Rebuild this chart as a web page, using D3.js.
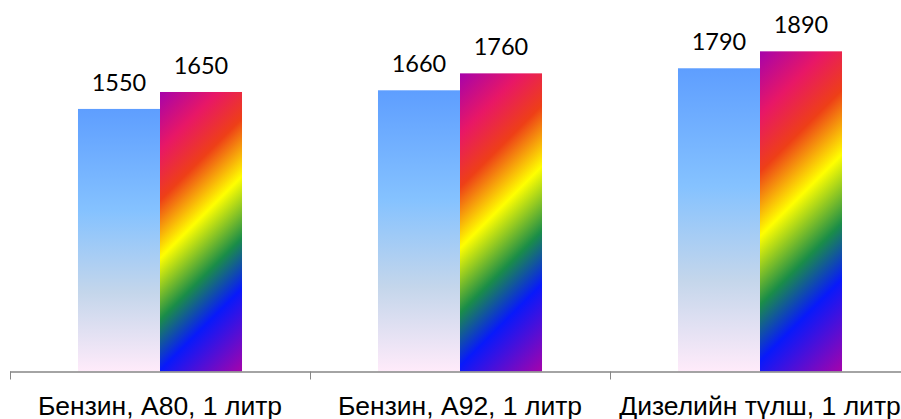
<!DOCTYPE html>
<html>
<head>
<meta charset="utf-8">
<script src="https://cdn.jsdelivr.net/npm/d3@7"></script>
<style>
  html, body { margin: 0; padding: 0; background: #ffffff; }
  svg { display: block; }
</style>
</head>
<body>
<svg id="chart" width="901" height="419"></svg>
<script>
// ---- data ----
const categories = ["Бензин, А80, 1 литр", "Бензин, А92, 1 литр", "Дизелийн түлш, 1 литр"];
const seriesNames = ["s1", "s2"];
const series1 = [1550, 1660, 1790];
const series2 = [1650, 1760, 1890];
const yMax = 2000;

// ---- layout ----
const W = 901, H = 419;
const baseY = 371.5;
const svg = d3.select("#chart");
const defs = svg.append("defs");

const x0 = d3.scaleBand().domain(categories).range([10, 910]).padding(0);
const x1 = d3.scaleBand().domain(seriesNames).range([0, x0.bandwidth()])
  .paddingInner(0).paddingOuter(0.829);
const y = d3.scaleLinear().domain([0, yMax]).range([baseY, baseY - 0.1694 * yMax]);

// Daybreak-like vertical gradient for series 1
const g1 = defs.append("linearGradient").attr("id", "daybreak")
  .attr("x1", 0).attr("y1", 0).attr("x2", 0).attr("y2", 1);
[["0%", "#5E9EFF"], ["39%", "#85C2FF"], ["70%", "#C4D6EB"], ["100%", "#FFEBFA"]]
  .forEach(([o, c]) => g1.append("stop").attr("offset", o).attr("stop-color", c));

const rainbowStops = [["0%", "#A603AB"], ["16%", "#E81766"], ["30%", "#EE3F17"], ["46%", "#FFFF00"],
  ["63%", "#1A8D48"], ["77%", "#0819FB"], ["100%", "#A603AB"]];

const rows = categories.map((c, i) => ({ cat: c, vals: [series1[i], series2[i]] }));

const groups = svg.append("g").selectAll("g").data(rows).join("g")
  .attr("transform", d => `translate(${x0(d.cat)},0)`);

groups.each(function (d, gi) {
  const g = d3.select(this);
  d.vals.forEach((v, si) => {
    const bx = x1(seriesNames[si]);
    const bw = x1.bandwidth();
    const top = y(v);
    const h = baseY - top;
    let fill = "url(#daybreak)";
    if (si === 1) {
      const id = "rainbow" + gi;
      const L = (bw + h) / 2;
      const rg = defs.append("linearGradient").attr("id", id)
        .attr("gradientUnits", "userSpaceOnUse")
        .attr("x1", bx).attr("y1", top).attr("x2", bx + L).attr("y2", top + L);
      rainbowStops.forEach(([o, c]) => rg.append("stop").attr("offset", o).attr("stop-color", c));
      fill = `url(#${id})`;
    }
    g.append("rect").attr("x", bx).attr("y", top).attr("width", bw).attr("height", h)
      .attr("fill", fill);
    g.append("text").attr("x", bx + bw / 2).attr("y", top - 18)
      .attr("text-anchor", "middle")
      .attr("font-family", "Lato, 'Open Sans', sans-serif")
      .attr("font-size", 23.5).attr("fill", "#000")
      .text(v);
  });
});

// axis line
svg.append("line").attr("x1", x0.range()[0]).attr("x2", W).attr("y1", baseY + 0.5).attr("y2", baseY + 0.5)
  .attr("stroke", "#868686").attr("stroke-width", 1.5);
// tick marks at category boundaries
svg.append("g").selectAll("line").data(categories).join("line")
  .attr("x1", d => x0(d) + 0.5).attr("x2", d => x0(d) + 0.5)
  .attr("y1", baseY).attr("y2", baseY + 8)
  .attr("stroke", "#868686").attr("stroke-width", 1);

// category labels
svg.append("g").selectAll("text").data(categories).join("text")
  .attr("x", d => x0(d) + x0.bandwidth() / 2)
  .attr("y", 414.5)
  .attr("text-anchor", "middle")
  .attr("font-family", "'Liberation Sans', Arial, sans-serif")
  .attr("font-size", 26.5).attr("fill", "#000")
  .text(d => d);
</script>
</body>
</html>
